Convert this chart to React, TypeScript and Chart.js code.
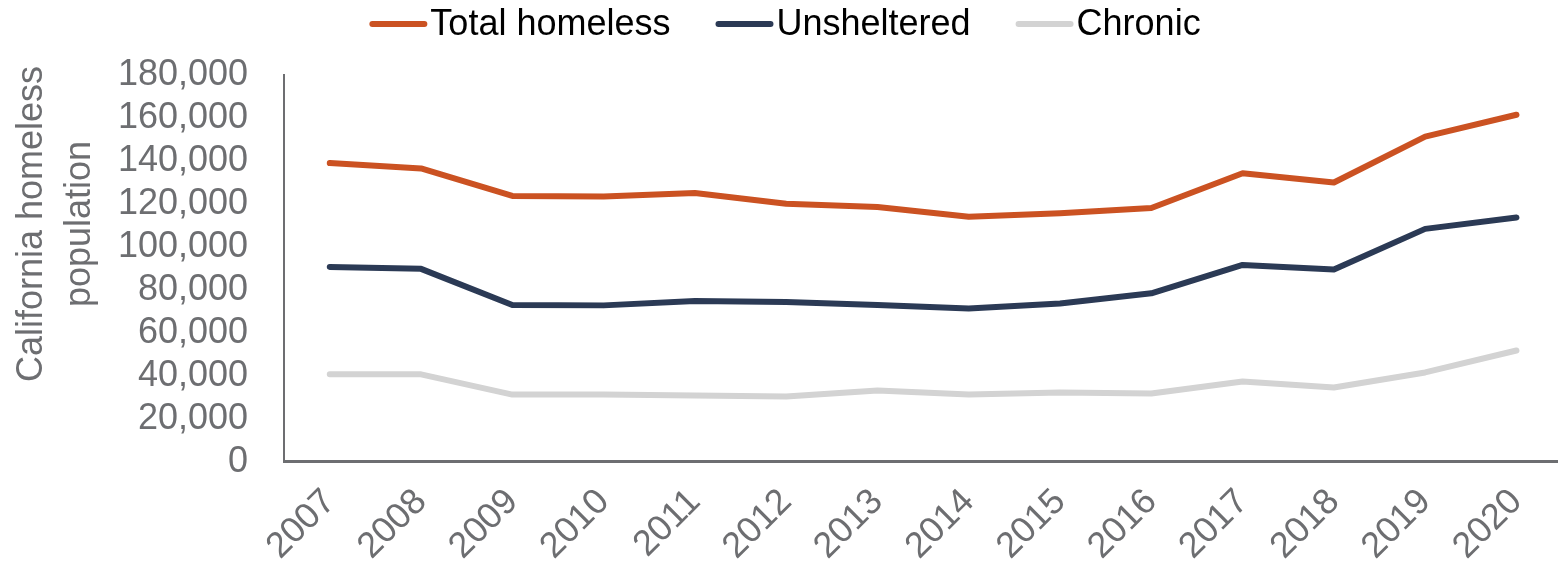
import React, { useEffect, useRef } from "react";
import { Chart, registerables } from "chart.js";

Chart.register(...registerables);

const years = ["2007", "2008", "2009", "2010", "2011", "2012", "2013", "2014", "2015", "2016", "2017", "2018", "2019", "2020"];
const totalHomeless = [139000, 136500, 123700, 123500, 125100, 120100, 118600, 114000, 115700, 118100, 134300, 130000, 151300, 161500];
const unsheltered = [90700, 89800, 73000, 72800, 74800, 74400, 73000, 71400, 73700, 78400, 91600, 89500, 108400, 113700];
const chronic = [40700, 40700, 31300, 31300, 30900, 30400, 33200, 31300, 32300, 31800, 37400, 34600, 41600, 51800];
const yTitleLines = ["California homeless", "population"];

const FONT = "'Liberation Sans', Arial, sans-serif";
const GRAY = "#6D6E71";

const yTitlePlugin = {
  id: "yTitle",
  afterDraw(chart: any) {
    const ctx = chart.ctx;
    ctx.save();
    ctx.fillStyle = GRAY;
    ctx.font = `36px ${FONT}`;
    ctx.textAlign = "center";
    ctx.textBaseline = "middle";
    ctx.translate(0, 224);
    ctx.rotate(-Math.PI / 2);
    ctx.fillText(yTitleLines[0], 0, 32);
    ctx.fillText(yTitleLines[1], 0, 80);
    ctx.restore();
  },
};

const legendPlugin = {
  id: "lineLegend",
  afterDraw(chart: any) {
    const ctx = chart.ctx;
    const sample = 58;
    const gap = 3;
    const itemGap = 45;
    ctx.save();
    ctx.font = `36px ${FONT}`;
    ctx.textBaseline = "middle";
    ctx.textAlign = "left";
    const ds = chart.data.datasets;
    const widths = ds.map((d: any) => sample + gap + ctx.measureText(d.label).width);
    const total = widths.reduce((a: number, b: number) => a + b, 0) + itemGap * (ds.length - 1);
    let x = 785 - total / 2;
    const y = 24;
    ds.forEach((d: any, i: number) => {
      ctx.strokeStyle = d.borderColor;
      ctx.lineWidth = 6;
      ctx.lineCap = "round";
      ctx.beginPath();
      ctx.moveTo(x + 3, y);
      ctx.lineTo(x + sample - 3, y);
      ctx.stroke();
      ctx.fillStyle = "#000";
      ctx.fillText(d.label, x + sample + gap, y + 1);
      x += widths[i] + itemGap;
    });
    ctx.restore();
  },
};

export default function App() {
  const ref = useRef<HTMLCanvasElement>(null);
  useEffect(() => {
    if (!ref.current) return;
    const common = { borderWidth: 6, pointRadius: 0, borderCapStyle: "round", borderJoinStyle: "round", tension: 0 };
    const chart = new Chart(ref.current, {
      type: "line",
      data: {
        labels: years,
        datasets: [
          { label: "Total homeless", data: totalHomeless, borderColor: "#CB5222", backgroundColor: "#CB5222", ...common },
          { label: "Unsheltered", data: unsheltered, borderColor: "#2B3A55", backgroundColor: "#2B3A55", ...common },
          { label: "Chronic", data: chronic, borderColor: "#D3D3D3", backgroundColor: "#D3D3D3", ...common },
        ] as any,
      },
      options: {
        animation: false,
        responsive: false,
        maintainAspectRatio: false,
        layout: { padding: { left: 82, right: 0, top: 75, bottom: 0 } },
        plugins: {
          legend: { display: false },
          tooltip: { enabled: false },
        },
        scales: {
          x: {
            offset: true,
            grid: { display: false, drawTicks: false },
            border: { display: true, color: GRAY, width: 3 },
            ticks: { color: GRAY, font: { family: FONT, size: 36 }, minRotation: 45, maxRotation: 45, padding: 19, autoSkip: false },
          },
          y: {
            min: 0,
            max: 180000,
            grid: { display: false, drawTicks: false },
            border: { display: true, color: GRAY, width: 2 },
            ticks: {
              stepSize: 20000,
              autoSkip: false,
              color: GRAY,
              font: { family: FONT, size: 36 },
              padding: 36,
              callback: (v: any) => Number(v).toLocaleString("en-US"),
            },
          },
        },
      },
      plugins: [yTitlePlugin, legendPlugin],
    });
    return () => chart.destroy();
  }, []);
  return (
    <div style={{ position: "fixed", left: 0, top: 0, width: 1558, height: 567, overflow: "hidden", background: "#fff" }}>
      <canvas ref={ref} width={1566} height={587} style={{ display: "block", width: 1566, height: 587 }} />
    </div>
  );
}
